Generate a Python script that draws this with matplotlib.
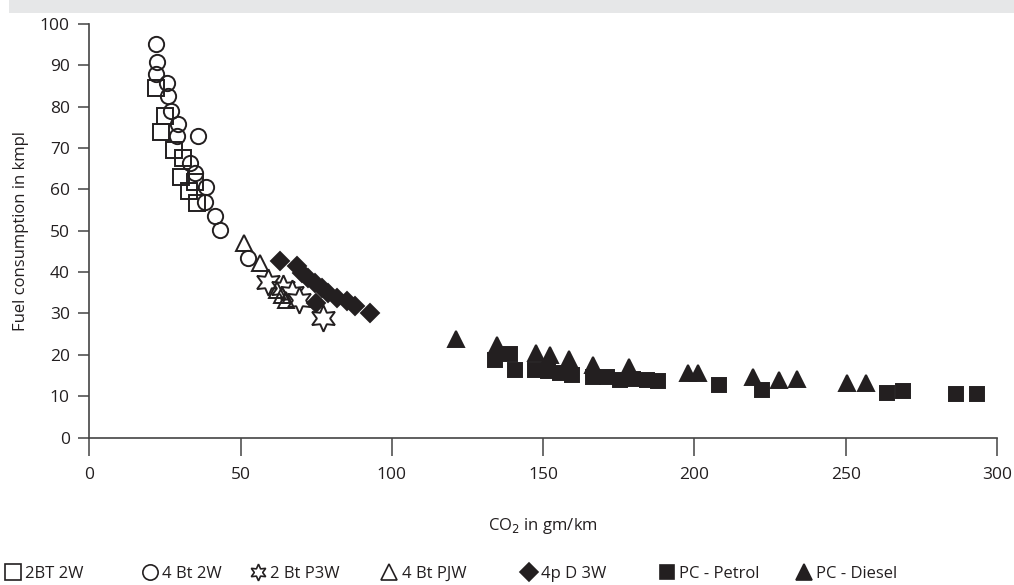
import matplotlib
matplotlib.use("Agg")
import matplotlib.pyplot as plt
from matplotlib.lines import Line2D
from matplotlib.patches import Rectangle

plt.rcParams['font.family'] = ['Open Sans', 'DejaVu Sans']

ink = '#231f20'

# data (CO2 g/km, fuel consumption kmpl)
bt2_2w_x = [22.0, 25.0, 23.7, 28.1, 31.1, 30.2, 34.9, 32.9, 35.5]
bt2_2w_y = [84.5, 77.7, 73.8, 69.6, 67.6, 63.1, 61.8, 59.5, 56.7]

bt4_2w_x = [21.9, 22.5, 22.0, 25.8, 26.1, 27.0, 29.4, 29.1, 36.0, 33.3, 34.9, 38.6, 38.2, 41.5, 43.2, 52.6]
bt4_2w_y = [95.2, 90.8, 87.8, 85.8, 82.7, 78.9, 75.9, 73.0, 72.8, 66.5, 64.0, 60.5, 56.9, 53.5, 50.2, 43.4]

bt2_p3w_x = [59.2, 64.1, 66.9, 69.4, 77.3]
bt2_p3w_y = [37.7, 36.1, 34.9, 33.3, 28.8]

bt4_pjw_x = [51.1, 56.4, 61.9, 63.6, 65.0]
bt4_pjw_y = [47.0, 42.2, 35.7, 34.5, 33.3]

p4_d3w_x = [63.0, 68.5, 70.2, 72.4, 74.6, 76.8, 79.0, 81.8, 85.1, 87.8, 92.8, 75.0]
p4_d3w_y = [42.6, 41.4, 39.8, 38.5, 37.3, 36.1, 34.9, 33.7, 32.9, 31.7, 30.1, 32.5]

pc_petrol_x = [134.0, 138.9, 140.7, 147.3, 151.5, 155.5, 159.5, 166.4, 171.0, 175.4, 179.7,
               184.2, 188.0, 208.2, 222.4, 263.5, 269.0, 286.3, 293.4]
pc_petrol_y = [18.8, 20.2, 16.3, 16.3, 16.0, 15.6, 15.1, 14.7, 14.6, 13.9, 14.1,
               13.8, 13.7, 12.8, 11.4, 10.8, 11.2, 10.5, 10.5]

pc_diesel_x = [121.2, 134.6, 147.6, 152.2, 158.6, 166.4, 178.5, 198.0, 201.3,
               219.4, 227.9, 234.0, 250.3, 256.6]
pc_diesel_y = [23.8, 22.4, 20.4, 20.0, 18.9, 17.6, 17.1, 15.7, 15.7,
               14.7, 13.9, 14.1, 13.1, 13.1]

series = [
    ('2BT 2W', bt2_2w_x, bt2_2w_y, dict(marker='s', ms=12, mfc='none')),
    ('4 Bt 2W', bt4_2w_x, bt4_2w_y, dict(marker='o', ms=11, mfc='none')),
    ('2 Bt P3W', bt2_p3w_x, bt2_p3w_y, dict(marker=(6, 1, 0), ms=19, mfc='white')),
    ('4 Bt PJW', bt4_pjw_x, bt4_pjw_y, dict(marker='^', ms=12, mfc='none')),
    ('4p D 3W', p4_d3w_x, p4_d3w_y, dict(marker='D', ms=9, mfc=ink)),
    ('PC - Petrol', pc_petrol_x, pc_petrol_y, dict(marker='s', ms=10.5, mfc=ink)),
    ('PC - Diesel', pc_diesel_x, pc_diesel_y, dict(marker='^', ms=11, mfc=ink)),
]

fig = plt.figure(figsize=(10.14, 5.85), dpi=100)
ax = fig.add_axes([0.0881, 0.2521, 0.8951, 0.7069])

for name, xs, ys, st in series:
    ax.plot(xs, ys, linestyle='none', mec=ink, mew=1.4, color=ink, **st)

ax.set_xlim(0, 300)
ax.set_ylim(0, 100)
ax.set_xticks(range(0, 301, 50))
ax.set_yticks(range(0, 101, 10))
ax.spines['top'].set_visible(False)
ax.spines['right'].set_visible(False)
for s in ('left', 'bottom'):
    ax.spines[s].set_color('#444444')
    ax.spines[s].set_linewidth(1.2)
ax.tick_params(axis='y', length=8, width=1.1, color='#444444', labelsize=12.5, colors=ink, pad=6)
ax.tick_params(axis='x', length=13, width=1.1, color='#444444', labelsize=12.5, colors=ink, pad=8)
ax.set_xlabel('CO$_2$ in gm/km', fontsize=12, color=ink, labelpad=24)
ax.set_ylabel('Fuel consumption in kmpl', fontsize=12, color=ink, labelpad=8)

# grey band on top
fig.add_artist(Rectangle((0.009, 1 - 12.7 / 585), 0.991, 12.7 / 585,
                         transform=fig.transFigure, color='#e6e7e8', lw=0))

# legend row at the bottom
leg_x = [0.013, 0.148, 0.254, 0.384, 0.522, 0.658, 0.793]
leg_y = 0.019
for (name, xs, ys, st), lx in zip(series, leg_x):
    st2 = dict(st)
    st2['ms'] = min(st['ms'], 12)
    fig.add_artist(Line2D([lx], [leg_y + 0.003], transform=fig.transFigure, linestyle='none',
                          mec=ink, mew=1.2, color=ink, **st2))
    fig.text(lx + 0.012, leg_y, name, fontsize=12, color=ink, va='center', ha='left')

fig.savefig('out.png', dpi=100)
